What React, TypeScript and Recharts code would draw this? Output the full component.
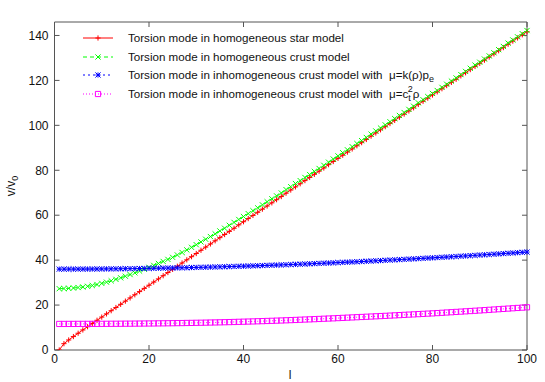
import React from "react";
import { Line, LineChart, XAxis, YAxis } from "recharts";

// harmonic index l
const L = [
  1, 2, 3, 4, 5, 6, 7, 8, 9, 10, 11, 12, 13, 14, 15, 16, 17, 18, 19, 20,
  21, 22, 23, 24, 25, 26, 27, 28, 29, 30, 31, 32, 33, 34, 35, 36, 37, 38, 39, 40,
  41, 42, 43, 44, 45, 46, 47, 48, 49, 50, 51, 52, 53, 54, 55, 56, 57, 58, 59, 60,
  61, 62, 63, 64, 65, 66, 67, 68, 69, 70, 71, 72, 73, 74, 75, 76, 77, 78, 79, 80,
  81, 82, 83, 84, 85, 86, 87, 88, 89, 90, 91, 92, 93, 94, 95, 96, 97, 98, 99, 100,
];

const starModel = [
  0, 2.82, 4.46, 5.98, 7.46, 8.92, 10.36, 11.8, 13.23, 14.65,
  16.07, 17.49, 18.91, 20.33, 21.75, 23.17, 24.58, 26.0, 27.41, 28.83,
  30.24, 31.65, 33.07, 34.48, 35.89, 37.3, 38.72, 40.13, 41.54, 42.95,
  44.4, 45.8, 47.2, 48.6, 50.0, 51.4, 52.8, 54.2, 55.7, 57.1,
  58.5, 59.9, 61.3, 62.7, 64.1, 65.5, 66.9, 68.3, 69.8, 71.2,
  72.6, 74.0, 75.4, 76.8, 78.2, 79.6, 81.0, 82.5, 83.9, 85.3,
  86.7, 88.1, 89.5, 90.9, 92.3, 93.7, 95.2, 96.6, 98.0, 99.4,
  100.8, 102.2, 103.6, 105.0, 106.4, 107.8, 109.3, 110.7, 112.1, 113.5,
  114.9, 116.3, 117.7, 119.1, 120.5, 122.0, 123.4, 124.8, 126.2, 127.6,
  129.0, 130.4, 131.8, 133.2, 134.6, 136.1, 137.5, 138.9, 140.3, 141.7,
];

const homCrust = [
  27.3, 27.35, 27.45, 27.6, 27.8, 28.05, 28.35, 28.7, 29.15, 29.65,
  30.2, 30.8, 31.45, 32.13, 32.84, 33.58, 34.35, 35.14, 35.96, 36.8,
  37.66, 38.53, 39.42, 40.33, 41.25, 42.3, 43.42, 44.55, 45.7, 46.87,
  48.1, 49.3, 50.5, 51.7, 53.0, 54.2, 55.5, 56.8, 58.1, 59.4,
  60.7, 62.0, 63.3, 64.6, 66.0, 67.3, 68.6, 69.9, 71.4, 72.7,
  74.1, 75.4, 76.8, 78.1, 79.5, 80.8, 82.2, 83.6, 85.0, 86.4,
  87.8, 89.1, 90.5, 91.9, 93.2, 94.6, 96.1, 97.5, 98.8, 100.2,
  101.6, 103.0, 104.4, 105.7, 107.1, 108.5, 110.0, 111.4, 112.8, 114.2,
  115.5, 116.9, 118.3, 119.7, 121.1, 122.6, 124.0, 125.4, 126.8, 128.1,
  129.5, 130.9, 132.3, 133.7, 135.1, 136.6, 138.0, 139.4, 140.8, 142.2,
];

const inhomK = [
  36.0, 36.0, 36.01, 36.01, 36.02, 36.03, 36.04, 36.05, 36.07, 36.08,
  36.1, 36.12, 36.14, 36.16, 36.19, 36.21, 36.24, 36.27, 36.3, 36.33,
  36.37, 36.4, 36.44, 36.48, 36.52, 36.56, 36.61, 36.65, 36.7, 36.75,
  36.8, 36.85, 36.91, 36.96, 37.02, 37.08, 37.13, 37.19, 37.26, 37.32,
  37.39, 37.45, 37.52, 37.59, 37.66, 37.73, 37.81, 37.88, 37.96, 38.04,
  38.12, 38.2, 38.28, 38.37, 38.46, 38.54, 38.63, 38.72, 38.81, 38.91,
  39.0, 39.1, 39.19, 39.29, 39.39, 39.49, 39.59, 39.7, 39.8, 39.91,
  40.02, 40.12, 40.23, 40.34, 40.45, 40.57, 40.68, 40.8, 40.91, 41.03,
  41.15, 41.27, 41.39, 41.51, 41.63, 41.75, 41.88, 42.0, 42.13, 42.26,
  42.39, 42.52, 42.65, 42.78, 42.92, 43.05, 43.19, 43.32, 43.46, 43.6,
];

const inhomC2 = [
  11.6, 11.6, 11.61, 11.61, 11.62, 11.62, 11.63, 11.63, 11.64, 11.65,
  11.66, 11.67, 11.68, 11.69, 11.71, 11.72, 11.74, 11.76, 11.78, 11.8,
  11.82, 11.85, 11.87, 11.9, 11.93, 11.96, 11.99, 12.03, 12.06, 12.1,
  12.14, 12.18, 12.23, 12.27, 12.32, 12.37, 12.42, 12.48, 12.54, 12.6,
  12.66, 12.72, 12.79, 12.85, 12.92, 12.99, 13.07, 13.14, 13.22, 13.3,
  13.38, 13.47, 13.56, 13.64, 13.73, 13.82, 13.92, 14.01, 14.1, 14.2,
  14.3, 14.4, 14.5, 14.6, 14.7, 14.8, 14.9, 15.0, 15.1, 15.2,
  15.31, 15.42, 15.53, 15.64, 15.75, 15.86, 15.97, 16.08, 16.19, 16.3,
  16.43, 16.56, 16.69, 16.82, 16.95, 17.08, 17.21, 17.34, 17.47, 17.6,
  17.74, 17.88, 18.02, 18.16, 18.3, 18.44, 18.58, 18.72, 18.86, 19.0,
];

const xTicks = [0, 20, 40, 60, 80, 100];
const yTicks = [0, 20, 40, 60, 80, 100, 120, 140];

const data = L.map((l, i) => ({
  l,
  star: starModel[i],
  hom: homCrust[i],
  inhomK: inhomK[i],
  inhomC2: inhomC2[i],
}));

const FONT = "'Liberation Sans', Arial, Helvetica, sans-serif";
const AXIS = "#555";
const TEXT = "#111";

type Shape = "plus" | "cross" | "star" | "square";

function markerPath(shape: Shape, cx: number, cy: number) {
  const r = 2.6;
  switch (shape) {
    case "plus":
      return `M${cx - r},${cy}h${2 * r}M${cx},${cy - r}v${2 * r}`;
    case "cross":
      return `M${cx - r},${cy - r}l${2 * r},${2 * r}M${cx - r},${cy + r}l${2 * r},${-2 * r}`;
    case "star":
      return (
        `M${cx - r},${cy}h${2 * r}M${cx},${cy - r}v${2 * r}` +
        `M${cx - r},${cy - r}l${2 * r},${2 * r}M${cx - r},${cy + r}l${2 * r},${-2 * r}`
      );
    default:
      return `M${cx - r},${cy - r}h${2 * r}v${2 * r}h${-2 * r}z`;
  }
}

const makeDot = (shape: Shape, color: string) => (props: any) => {
  const { cx, cy, index } = props;
  if (cx == null || cy == null) return <g key={`d-${index}`} />;
  return (
    <path
      key={`d-${index}`}
      d={markerPath(shape, cx, cy)}
      stroke={color}
      strokeWidth={1}
      fill="none"
    />
  );
};

const series = [
  { key: "star", color: "#ff0000", dash: undefined, shape: "plus" as Shape },
  { key: "hom", color: "#00ff00", dash: "4 3", shape: "cross" as Shape },
  { key: "inhomK", color: "#0000ff", dash: "2 3", shape: "star" as Shape },
  { key: "inhomC2", color: "#ff00ff", dash: "1 2", shape: "square" as Shape },
];

function LegendOverlay() {
  const rows = [38, 57, 75, 94];
  const labels: React.ReactNode[] = [
    "Torsion mode in homogeneous star model",
    "Torsion mode in homogeneous crust model",
    <>
      Torsion mode in inhomogeneous crust model with{"  "}
      <tspan>μ=k(ρ)p</tspan>
      <tspan fontSize={9} dy={3}>e</tspan>
    </>,
    <>
      Torsion mode in inhomogeneous crust model with{"  "}
      <tspan>μ=c</tspan>
      <tspan fontSize={9} dy={3}>t</tspan>
      <tspan fontSize={9} dx={-3} dy={-9}>2</tspan>
      <tspan dy={6}>ρ</tspan>
    </>,
  ];
  return (
    <svg
      width={545}
      height={382}
      style={{ position: "absolute", left: 0, top: 0, pointerEvents: "none" }}
    >
      {series.map((s, i) => (
        <g key={s.key}>
          <line
            x1={83}
            x2={113}
            y1={rows[i]}
            y2={rows[i]}
            stroke={s.color}
            strokeDasharray={s.dash}
          />
          <path d={markerPath(s.shape, 98, rows[i])} stroke={s.color} fill="none" />
          <text
            x={128}
            y={rows[i] + 4}
            fontFamily={FONT}
            fontSize={11.6}
            fill={TEXT}
            style={{ whiteSpace: "pre" }}
          >
            {labels[i]}
          </text>
        </g>
      ))}
      <text
        x={15}
        y={186}
        transform="rotate(-90 15 186)"
        textAnchor="middle"
        fontFamily={FONT}
        fontSize={12}
        fill={TEXT}
      >
        v/v<tspan fontSize={9} dy={3}>0</tspan>
      </text>
      <text x={290} y={379} textAnchor="middle" fontFamily={FONT} fontSize={12} fill={TEXT}>
        l
      </text>
    </svg>
  );
}

export default function App() {
  const tickStyle = { fontFamily: FONT, fontSize: 12, fill: TEXT };
  return (
    <div style={{ position: "absolute", left: 0, top: 0, width: 545, height: 382, background: "#fff" }}>
      <LineChart
        width={545}
        height={382}
        data={data}
        margin={{ top: 21, right: 17, bottom: 0, left: 8 }}
      >
        <XAxis
          dataKey="l"
          type="number"
          domain={[0, 100]}
          ticks={xTicks}
          height={32}
          tickSize={-5}
          tickMargin={9}
          tick={tickStyle}
          stroke={AXIS}
          tickLine={{ stroke: AXIS }}
          axisLine={{ stroke: AXIS }}
        />
        <XAxis
          xAxisId="top"
          orientation="top"
          dataKey="l"
          type="number"
          domain={[0, 100]}
          ticks={xTicks}
          height={1}
          tickSize={-5}
          tickFormatter={() => ""}
          stroke={AXIS}
        />
        <YAxis
          type="number"
          domain={[0, 146]}
          ticks={yTicks}
          width={46.5}
          tickSize={-5}
          tickMargin={11}
          tick={tickStyle}
          stroke={AXIS}
          allowDataOverflow
        />
        <YAxis
          yAxisId="right"
          orientation="right"
          type="number"
          domain={[0, 146]}
          ticks={yTicks}
          width={1}
          tickSize={-5}
          tickFormatter={() => ""}
          stroke={AXIS}
          allowDataOverflow
        />
        {series.map((s) => (
          <Line
            key={s.key}
            dataKey={s.key}
            type="linear"
            stroke={s.color}
            strokeWidth={1}
            strokeDasharray={s.dash}
            dot={makeDot(s.shape, s.color)}
            activeDot={false}
            isAnimationActive={false}
          />
        ))}
      </LineChart>
      <LegendOverlay />
    </div>
  );
}
